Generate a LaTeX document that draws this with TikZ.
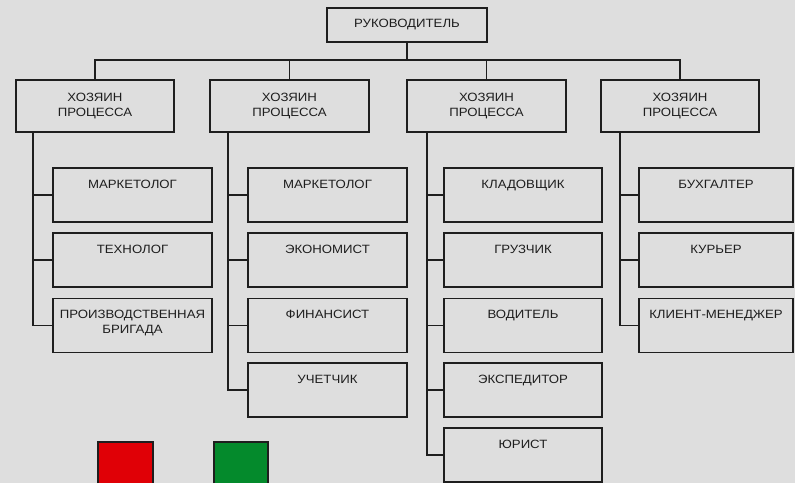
\documentclass[tikz,border=0pt]{standalone}
\usepackage{fontspec}
\setmainfont{Liberation Sans}[FakeStretch=1.1]
\definecolor{bggray}{HTML}{DEDEDE}
\definecolor{boxred}{HTML}{E00006}
\definecolor{boxgreen}{HTML}{048A2C}
\definecolor{linegray}{HTML}{1E1E1E}

\begin{document}
\begin{tikzpicture}[x=0.75pt,y=-0.75pt,
  every node/.style={font=\fontsize{9}{11}\selectfont, text=linegray},
  headbox/.style={draw=linegray, line width=1.3pt, fill=bggray, minimum width=120pt, minimum height=25.5pt, inner sep=0pt},
  ownerbox/.style={draw=linegray, line width=1.3pt, fill=bggray, minimum width=119pt, minimum height=39pt, inner sep=0pt, align=center},
  staffbox/.style={draw=linegray, line width=1.3pt, fill=bggray, minimum width=119pt, minimum height=40.5pt, inner sep=0pt},
  smallbox/.style={staffbox, minimum width=115.5pt},
  stafftext/.style={anchor=north, yshift=-6pt, align=center},
  link/.style={draw=linegray, line width=1.3pt}]
\useasboundingbox (0,0) rectangle (795,483);
\fill[bggray] (0,0) rectangle (795,483);

\node[headbox] (boss) at (407,25) {РУКОВОДИТЕЛЬ};
\coordinate (bus) at (407,60);

\node[ownerbox] (own1) at (95,106) {ХОЗЯИН\\ПРОЦЕССА};
\node[ownerbox] (own2) at (289.5,106) {ХОЗЯИН\\ПРОЦЕССА};
\node[ownerbox] (own3) at (486.5,106) {ХОЗЯИН\\ПРОЦЕССА};
\node[ownerbox] (own4) at (680,106) {ХОЗЯИН\\ПРОЦЕССА};

\draw[link] (boss.south) -- (bus);
\draw[link] (own1.north) |- (bus) -| (own4.north);
\draw[link] (own2.north) -- (own2.north |- bus);
\draw[link] (own3.north) -- (own3.north |- bus);

\coordinate (spine1) at (33,132);
\coordinate (spine2) at (228,132);
\coordinate (spine3) at (427,132);
\coordinate (spine4) at (620,132);

\node[staffbox, label={[stafftext]north:МАРКЕТОЛОГ}] (mark1) at (132.5,195) {};
\node[staffbox, label={[stafftext]north:ТЕХНОЛОГ}] (tech1) at (132.5,260) {};
\node[staffbox, label={[stafftext]north:ПРОИЗВОДСТВЕННАЯ\\БРИГАДА}] (brig1) at (132.5,325.5) {};

\node[staffbox, label={[stafftext]north:МАРКЕТОЛОГ}] (mark2) at (327.5,195) {};
\node[staffbox, label={[stafftext]north:ЭКОНОМИСТ}] (econ2) at (327.5,260) {};
\node[staffbox, label={[stafftext]north:ФИНАНСИСТ}] (fin2) at (327.5,325.5) {};
\node[staffbox, label={[stafftext]north:УЧЕТЧИК}] (acct2) at (327.5,390) {};

\node[staffbox, label={[stafftext]north:КЛАДОВЩИК}] (store3) at (523,195) {};
\node[staffbox, label={[stafftext]north:ГРУЗЧИК}] (load3) at (523,260) {};
\node[staffbox, label={[stafftext]north:ВОДИТЕЛЬ}] (drive3) at (523,325.5) {};
\node[staffbox, label={[stafftext]north:ЭКСПЕДИТОР}] (ship3) at (523,390) {};
\node[staffbox, label={[stafftext]north:ЮРИСТ}] (law3) at (523,455) {};

\node[smallbox, label={[stafftext]north:БУХГАЛТЕР}] (book4) at (716,195) {};
\node[smallbox, label={[stafftext]north:КУРЬЕР}] (cour4) at (716,260) {};
\node[smallbox, label={[stafftext]north:КЛИЕНТ-МЕНЕДЖЕР}] (client4) at (716,325.5) {};

\draw[link] (spine1) |- (mark1.west);
\draw[link] (spine1) |- (tech1.west);
\draw[link] (spine1) |- (brig1.west);

\draw[link] (spine2) |- (mark2.west);
\draw[link] (spine2) |- (econ2.west);
\draw[link] (spine2) |- (fin2.west);
\draw[link] (spine2) |- (acct2.west);

\draw[link] (spine3) |- (store3.west);
\draw[link] (spine3) |- (load3.west);
\draw[link] (spine3) |- (drive3.west);
\draw[link] (spine3) |- (ship3.west);
\draw[link] (spine3) |- (law3.west);

\draw[link] (spine4) |- (book4.west);
\draw[link] (spine4) |- (cour4.west);
\draw[link] (spine4) |- (client4.west);

\fill[boxred] (98,442) rectangle (153,483);
\draw[linegray, line width=1.3pt] (98,483) |- (153,442) -- (153,483);
\fill[boxgreen] (214,442) rectangle (268,483);
\draw[linegray, line width=1.3pt] (214,483) |- (268,442) -- (268,483);
\end{tikzpicture}
\end{document}
